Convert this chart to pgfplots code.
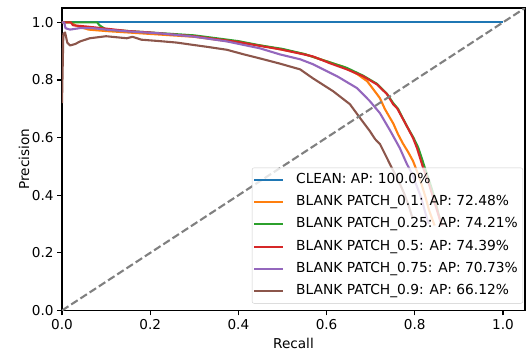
\documentclass[border=0pt]{standalone}
\usepackage{fontspec}
\setmainfont{DejaVu Sans}
\usepackage{pgfplots}
\pgfplotsset{compat=1.18}
\definecolor{cblue}{HTML}{1F77B4}
\definecolor{corange}{HTML}{FF7F0E}
\definecolor{cgreen}{HTML}{2CA02C}
\definecolor{cred}{HTML}{D62728}
\definecolor{cpurple}{HTML}{9467BD}
\definecolor{cbrown}{HTML}{8C564B}
\newcommand{\fs}{\fontsize{13.6}{16}\selectfont}
\newcommand{\fl}{\fontsize{13.8}{16}\selectfont}
\begin{document}
\begin{tikzpicture}
\path[use as bounding box] (-62pt,-44pt) rectangle (465pt,310.5pt);
\begin{axis}[
  at={(0,0)}, anchor=south west,
  scale only axis, width=463pt, height=302.5pt,
  xmin=0, xmax=1.05, ymin=0, ymax=1.05,
  xtick={0,0.2,0.4,0.6,0.8,1.0}, ytick={0,0.2,0.4,0.6,0.8,1.0},
  xticklabels={0.0,0.2,0.4,0.6,0.8,1.0}, yticklabels={0.0,0.2,0.4,0.6,0.8,1.0},
  tick align=outside, major tick length=4.9pt,
  tick style={black, line width=1.1pt},
  axis line style={line width=1.1pt},
  xtick pos=bottom, ytick pos=left,
  tick label style={font=\fs},
  xlabel={Recall}, ylabel={Precision},
  label style={font=\fs},
  xlabel style={at={(axis description cs:0.5,-0.109)}, anchor=center},
  ylabel style={at={(axis description cs:-0.082,0.5)}, anchor=center},
  legend cell align=left,
  legend style={font=\fl, at={(rel axis cs:0.9957,0.023)}, anchor=south east,
    draw=black!20, rounded corners=2pt, fill=white, fill opacity=0.8, text opacity=1, draw opacity=1,
    inner xsep=1pt, inner ysep=4.5pt,
    row sep=7.3pt, nodes={text height=10pt, text depth=3pt, inner ysep=1pt, inner xsep=4pt}},
  legend image code/.code={\draw[#1] (0pt,0pt) -- (29pt,0pt); \path (37pt,0pt);},
  every axis plot/.append style={line width=2.1pt, line join=round},
]
\addplot[cblue] coordinates {(0,1) (1,1)};
\addlegendentry{CLEAN: AP: 100.0\%}
\addplot[corange] coordinates {(0,1) (0.02,1) (0.03,0.99) (0.06,0.975) (0.1,0.97) (0.15,0.965) (0.2,0.96) (0.25,0.955) (0.3,0.95) (0.35,0.94) (0.4,0.93) (0.45,0.92) (0.5,0.905) (0.55,0.89) (0.6,0.865) (0.64,0.845) (0.67,0.82) (0.692,0.796) (0.705,0.77) (0.721,0.737) (0.732,0.70) (0.744,0.668) (0.751,0.65) (0.762,0.612) (0.773,0.58) (0.785,0.55) (0.796,0.519) (0.805,0.484) (0.815,0.44) (0.825,0.39) (0.832,0.35) (0.839,0.32) (0.845,0.295)};
\addlegendentry{BLANK PATCH\_0.1: AP: 72.48\%}
\addplot[cgreen] coordinates {(0,1) (0.04,1) (0.08,1.0) (0.085,0.99) (0.1,0.975) (0.15,0.97) (0.2,0.965) (0.25,0.96) (0.3,0.955) (0.35,0.945) (0.4,0.935) (0.45,0.92) (0.5,0.908) (0.55,0.89) (0.6,0.865) (0.646,0.842) (0.683,0.815) (0.714,0.787) (0.737,0.752) (0.751,0.72) (0.762,0.70) (0.782,0.64) (0.797,0.60) (0.808,0.565) (0.823,0.495) (0.835,0.44) (0.845,0.39) (0.853,0.34) (0.86,0.30)};
\addlegendentry{BLANK PATCH\_0.25: AP: 74.21\%}
\addplot[cred] coordinates {(0,1) (0.02,1) (0.025,0.99) (0.06,0.985) (0.09,0.98) (0.15,0.97) (0.2,0.965) (0.25,0.958) (0.3,0.952) (0.35,0.942) (0.4,0.932) (0.45,0.918) (0.494,0.907) (0.53,0.895) (0.569,0.882) (0.608,0.858) (0.646,0.837) (0.683,0.813) (0.714,0.785) (0.737,0.751) (0.751,0.716) (0.760,0.702) (0.782,0.640) (0.796,0.599) (0.805,0.564) (0.819,0.495) (0.83,0.45) (0.84,0.40) (0.85,0.35) (0.858,0.31) (0.862,0.295)};
\addlegendentry{BLANK PATCH\_0.5: AP: 74.39\%}
\addplot[cpurple] coordinates {(0,1) (0.005,1) (0.008,0.98) (0.018,0.975) (0.04,0.98) (0.07,0.98) (0.1,0.975) (0.147,0.969) (0.222,0.962) (0.297,0.951) (0.374,0.934) (0.449,0.91) (0.494,0.889) (0.54,0.872) (0.569,0.855) (0.624,0.813) (0.669,0.772) (0.698,0.727) (0.721,0.685) (0.744,0.625) (0.766,0.564) (0.782,0.509) (0.794,0.474) (0.805,0.43) (0.815,0.39) (0.822,0.35) (0.828,0.318) (0.832,0.30)};
\addlegendentry{BLANK PATCH\_0.75: AP: 70.73\%}
\addplot[cbrown] coordinates {(0,0.72) (0.003,0.96) (0.007,0.965) (0.012,0.93) (0.018,0.92) (0.03,0.925) (0.041,0.934) (0.063,0.945) (0.1,0.952) (0.147,0.945) (0.16,0.95) (0.18,0.94) (0.222,0.935) (0.26,0.93) (0.297,0.922) (0.33,0.915) (0.374,0.905) (0.41,0.89) (0.449,0.875) (0.494,0.857) (0.54,0.837) (0.569,0.806) (0.615,0.761) (0.653,0.716) (0.676,0.668) (0.698,0.623) (0.710,0.595) (0.721,0.578) (0.737,0.529) (0.748,0.495) (0.76,0.46) (0.775,0.41) (0.787,0.36) (0.795,0.32)};
\addlegendentry{BLANK PATCH\_0.9: AP: 66.12\%}
\addplot[gray, line width=2.1pt, dash pattern=on 7.7pt off 3.3pt, forget plot] coordinates {(0,0) (1.05,1.05)};
\end{axis}
\end{tikzpicture}
\end{document}
